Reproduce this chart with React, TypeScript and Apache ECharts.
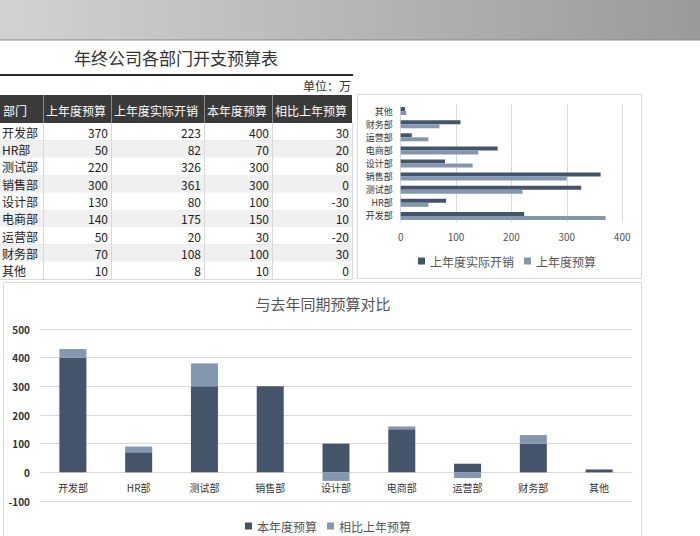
import React, { useEffect, useRef } from 'react';
import * as echarts from 'echarts';

const depts = ['开发部', 'HR部', '测试部', '销售部', '设计部', '电商部', '运营部', '财务部', '其他'];
const lastBudget = [370, 50, 220, 300, 130, 140, 50, 70, 10];
const lastActual = [223, 82, 326, 361, 80, 175, 20, 108, 8];
const thisBudget = [400, 70, 300, 300, 100, 150, 30, 100, 10];
const diffBudget = [30, 20, 80, 0, -30, 10, -20, 30, 0];
const headers = ['部门', '上年度预算', '上年度实际开销', '本年度预算', '相比上年预算'];
const mainTitle = '年终公司各部门开支预算表';
const unitText = '单位：万';
const chartTitle = '与去年同期预算对比';

const FONT = '"Noto Sans CJK SC", "Microsoft YaHei", sans-serif';
const DARK = '#44546a';
const LIGHT = '#8497b0';

function buildTable(): any[] {
  const els: any[] = [];
  const colEdges = [0, 43, 111, 204, 272, 352];
  const headTop = 95;
  const headH = 28;
  const rowH = 17.33;
  const bodyTop = headTop + headH;
  els.push({ type: 'rect', shape: { x: 0, y: headTop, width: 352, height: headH }, style: { fill: '#3a3a3a' } });
  for (let c = 1; c < colEdges.length - 1; c++) {
    els.push({ type: 'line', shape: { x1: colEdges[c] + 0.5, y1: headTop, x2: colEdges[c] + 0.5, y2: headTop + headH }, style: { stroke: '#8a8a8a', lineWidth: 1 } });
  }
  headers.forEach((h, c) => {
    els.push({ type: 'text', x: colEdges[c] + 3, y: headTop + headH / 2 + 1, style: { text: h, fill: '#ffffff', fontSize: 12, fontFamily: FONT, align: 'left', verticalAlign: 'middle' } });
  });
  const rows = depts.map((d, i) => [d, lastBudget[i], lastActual[i], thisBudget[i], diffBudget[i]]);
  rows.forEach((r, i) => {
    const y = bodyTop + i * rowH;
    els.push({ type: 'rect', shape: { x: 0, y, width: 352, height: rowH }, style: { fill: i % 2 === 1 ? '#f0f0f0' : '#ffffff' } });
    els.push({ type: 'line', shape: { x1: 0, y1: Math.round(y + rowH) + 0.5, x2: 352, y2: Math.round(y + rowH) + 0.5 }, style: { stroke: '#d9d9d9', lineWidth: 1 } });
    r.forEach((v, c) => {
      if (c === 0) {
        els.push({ type: 'text', x: 2, y: y + rowH / 2 + 0.5, style: { text: String(v), fill: '#222', fontSize: 12, fontFamily: FONT, align: 'left', verticalAlign: 'middle' } });
      } else {
        els.push({ type: 'text', x: colEdges[c + 1] - 3, y: y + rowH / 2 + 0.5, style: { text: String(v), fill: '#222', fontSize: 12, fontFamily: FONT, align: 'right', verticalAlign: 'middle' } });
      }
    });
  });
  for (let c = 1; c < colEdges.length; c++) {
    els.push({ type: 'line', shape: { x1: colEdges[c] + 0.5, y1: bodyTop, x2: colEdges[c] + 0.5, y2: bodyTop + rowH * rows.length }, style: { stroke: '#d9d9d9', lineWidth: 1 } });
  }
  return els;
}

const option: any = {
  animation: false,
  backgroundColor: '#ffffff',
  textStyle: { fontFamily: FONT },
  graphic: [
    {
      type: 'rect', shape: { x: 0, y: 0, width: 700, height: 40 },
      style: { fill: new echarts.graphic.LinearGradient(0, 0, 1, 0, [{ offset: 0, color: '#d2d2d2' }, { offset: 1, color: '#9a9a9a' }]) },
    },
    { type: 'line', shape: { x1: 0, y1: 40, x2: 700, y2: 40 }, style: { stroke: '#8c8c8c', lineWidth: 1 } },
    { type: 'text', x: 176, y: 57, style: { text: mainTitle, fill: '#333', fontSize: 17, fontFamily: FONT, align: 'center', verticalAlign: 'middle' } },
    { type: 'line', shape: { x1: 0, y1: 75, x2: 353, y2: 75 }, style: { stroke: '#2b2b2b', lineWidth: 2 } },
    { type: 'text', x: 351, y: 85, style: { text: unitText, fill: '#333', fontSize: 12, fontFamily: FONT, align: 'right', verticalAlign: 'middle' } },
    ...buildTable(),
    { type: 'rect', shape: { x: 357.5, y: 94.5, width: 284, height: 184 }, style: { fill: 'none', stroke: '#d9d9d9', lineWidth: 1 } },
    { type: 'rect', shape: { x: 3.5, y: 282.5, width: 638, height: 260 }, style: { fill: 'none', stroke: '#d9d9d9', lineWidth: 1 } },
    { type: 'text', x: 323, y: 303, style: { text: chartTitle, fill: '#555', fontSize: 15, fontFamily: FONT, align: 'center', verticalAlign: 'middle' } },
  ],
  legend: [
    {
      data: ['上年度实际开销', '上年度预算'],
      left: 413, top: 250,
      itemWidth: 7, itemHeight: 7, icon: 'rect', itemGap: 10,
      textStyle: { fontSize: 12, color: '#555', fontFamily: FONT },
    },
    {
      data: ['本年度预算', '相比上年预算'],
      left: 240, top: 515,
      itemWidth: 7, itemHeight: 7, icon: 'rect', itemGap: 10,
      textStyle: { fontSize: 12, color: '#555', fontFamily: FONT },
    },
  ],
  grid: [
    { left: 400.7, top: 104.5, width: 221.5, height: 118, containLabel: false },
    { left: 40, top: 329, width: 592, height: 172, containLabel: false },
  ],
  xAxis: [
    {
      gridIndex: 0, type: 'value', min: 0, max: 400, interval: 100,
      axisLine: { show: false }, axisTick: { show: false },
      splitLine: { lineStyle: { color: '#d9d9d9' } },
      axisLabel: { fontSize: 10, color: '#555', margin: 9 },
    },
    {
      gridIndex: 1, type: 'category', data: depts, offset: -28.67,
      axisLine: { show: true, onZero: false, lineStyle: { color: '#d9d9d9' } }, axisTick: { show: false },
      axisLabel: { fontSize: 10, color: '#333', margin: 10, interval: 0 },
    },
  ],
  yAxis: [
    {
      gridIndex: 0, type: 'category', data: depts,
      axisLine: { show: false }, axisTick: { show: false },
      axisLabel: { fontSize: 9, lineHeight: 10, color: '#333', margin: 8, interval: 0 },
    },
    {
      gridIndex: 1, type: 'value', min: -100, max: 500, interval: 100,
      axisLine: { show: false }, axisTick: { show: false },
      splitLine: { lineStyle: { color: '#d9d9d9' } },
      axisLabel: { fontSize: 10, color: '#333', margin: 10, fontWeight: 'bold' },
    },
  ],
  series: [
    {
      name: '上年度实际开销', type: 'bar', xAxisIndex: 0, yAxisIndex: 0,
      data: lastActual, barWidth: 4, barGap: '0%', itemStyle: { color: DARK },
    },
    {
      name: '上年度预算', type: 'bar', xAxisIndex: 0, yAxisIndex: 0,
      data: lastBudget, barWidth: 4, barGap: '0%', itemStyle: { color: LIGHT },
    },
    {
      name: '本年度预算', type: 'bar', xAxisIndex: 1, yAxisIndex: 1, stack: 'cmp',
      data: thisBudget, barWidth: 27, itemStyle: { color: DARK },
    },
    {
      name: '相比上年预算', type: 'bar', xAxisIndex: 1, yAxisIndex: 1, stack: 'cmp',
      data: diffBudget, barWidth: 27, itemStyle: { color: LIGHT },
    },
  ],
};

export default function App() {
  const ref = useRef<HTMLDivElement>(null);
  useEffect(() => {
    document.body.style.margin = '0';
    const chart = echarts.init(ref.current!, null, { renderer: 'svg' });
    chart.setOption(option);
    return () => chart.dispose();
  }, []);
  return <div ref={ref} style={{ width: 700, height: 536 }} />;
}
